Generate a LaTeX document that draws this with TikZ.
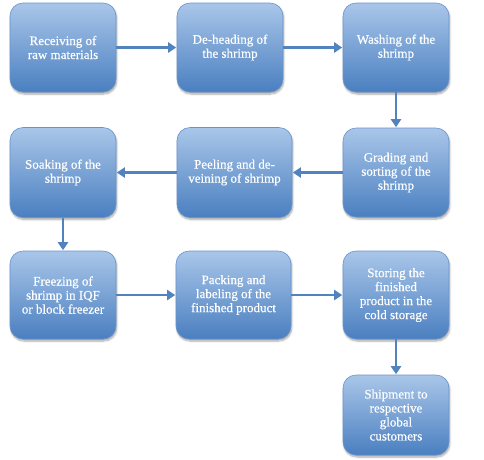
\documentclass[tikz,border=0pt]{standalone}
\usepackage{fontspec}
\setmainfont{Liberation Serif}[FakeBold=0.4]
\usetikzlibrary{arrows.meta,shadows.blur}
\definecolor{boxtop}{HTML}{A9C6E9}
\definecolor{boxbot}{HTML}{4A7FC0}
\definecolor{boxline}{HTML}{6893CC}
\definecolor{arrowc}{HTML}{5283BF}
\tikzset{
  procbox/.style={rounded corners=13pt, top color=boxtop, bottom color=boxbot,
    draw=boxline, line width=0.6pt, text=white, align=center, inner sep=0pt,
    font=\fontsize{13}{14}\selectfont,
    blur shadow={shadow blur steps=6, shadow xshift=0.8pt, shadow yshift=-2pt, shadow opacity=35}},
  flow/.style={draw=arrowc, line width=2.6pt, -{Triangle[length=8pt,width=10pt]}, shorten >=0.5pt}
}
\begin{document}
\begin{tikzpicture}[x=1pt,y=-1pt]
\useasboundingbox (0,0) rectangle (484,459);
\node[procbox, minimum width=106pt, minimum height=89pt] (n1) at (63,47.5) {Receiving of\\raw materials};
\node[procbox, minimum width=106pt, minimum height=89pt] (n2) at (230,47.5) {De-heading of\\the shrimp};
\node[procbox, minimum width=106pt, minimum height=89pt] (n3) at (396,47.5) {Washing of the\\shrimp};
\node[procbox, minimum width=106pt, minimum height=89pt] (n4) at (396,172.5) {Grading and\\sorting of the\\shrimp};
\node[procbox, minimum width=115pt, minimum height=90pt] (n5) at (234.5,172.5) {Peeling and de-\\veining of shrimp};
\node[procbox, minimum width=106pt, minimum height=90pt] (n6) at (63,172.5) {Soaking of the\\shrimp};
\node[procbox, minimum width=106pt, minimum height=88pt] (n7) at (63,295) {Freezing of\\shrimp in IQF\\or block freezer};
\node[procbox, minimum width=115pt, minimum height=88pt] (n8) at (233.5,295) {Packing and\\labeling of the\\finished product};
\node[procbox, minimum width=106pt, minimum height=88pt] (n9) at (396,295) {Storing the\\finished\\product in the\\cold storage};
\node[procbox, minimum width=106pt, minimum height=80pt] (n10) at (396,415) {Shipment to\\respective\\global\\customers};
\draw[flow] (n1) -- (n2);
\draw[flow] (n2) -- (n3);
\draw[flow] (n3) -- (n4);
\draw[flow] (n4) -- (n5);
\draw[flow] (n5) -- (n6);
\draw[flow] (n6) -- (n7);
\draw[flow] (n7) -- (n8);
\draw[flow] (n8) -- (n9);
\draw[flow] (n9) -- (n10);
\end{tikzpicture}
\end{document}
